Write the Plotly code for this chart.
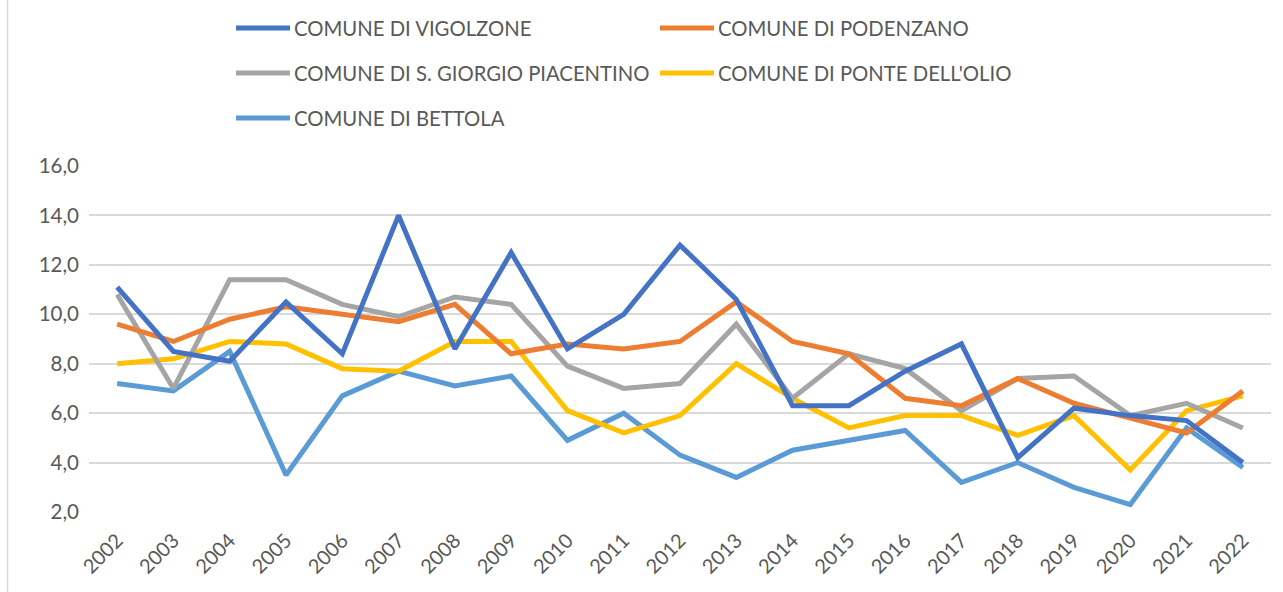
import plotly.graph_objects as go

years = list(range(2002, 2023))

vigolzone = [11.1, 8.5, 8.1, 10.5, 8.4, 14.0, 8.6, 12.5, 8.6, 10.0, 12.8,
             10.6, 6.3, 6.3, 7.7, 8.8, 4.2, 6.2, 5.9, 5.7, 4.0]
podenzano = [9.6, 8.9, 9.8, 10.3, 10.0, 9.7, 10.4, 8.4, 8.8, 8.6, 8.9,
             10.5, 8.9, 8.4, 6.6, 6.3, 7.4, 6.4, 5.8, 5.2, 6.9]
s_giorgio = [10.8, 7.0, 11.4, 11.4, 10.4, 9.9, 10.7, 10.4, 7.9, 7.0, 7.2,
             9.6, 6.6, 8.4, 7.8, 6.1, 7.4, 7.5, 5.9, 6.4, 5.4]
ponte_olio = [8.0, 8.2, 8.9, 8.8, 7.8, 7.7, 8.9, 8.9, 6.1, 5.2, 5.9,
              8.0, 6.6, 5.4, 5.9, 5.9, 5.1, 5.9, 3.7, 6.1, 6.7]
bettola = [7.2, 6.9, 8.5, 3.5, 6.7, 7.7, 7.1, 7.5, 4.9, 6.0, 4.3,
           3.4, 4.5, 4.9, 5.3, 3.2, 4.0, 3.0, 2.3, 5.4, 3.8]

series_names = ["COMUNE DI VIGOLZONE", "COMUNE DI PODENZANO",
                "COMUNE DI S. GIORGIO PIACENTINO", "COMUNE DI PONTE DELL'OLIO",
                "COMUNE DI BETTOLA"]
series_values = [vigolzone, podenzano, s_giorgio, ponte_olio, bettola]
colors = ["#4472C4", "#ED7D31", "#A5A5A5", "#FFC000", "#5B9BD5"]

y_ticks = [2, 4, 6, 8, 10, 12, 14, 16]

W, H = 1283, 592
ML, MR, MT, MB = 89, 12, 166, 80
PW, PH = W - ML - MR, H - MT - MB
FONT = "Lato"
TEXT_COLOR = "#595959"


def px_x(x):
    return (x - ML) / PW


def px_y(y):
    return (H - MB - y) / PH


fig = go.Figure()
# draw order: last series on the bottom, first on top
for name, vals, col in reversed(list(zip(series_names, series_values, colors))):
    fig.add_trace(go.Scatter(
        x=years, y=vals, name=name, mode="lines",
        line=dict(color=col, width=5, shape="linear"),
        showlegend=False,
    ))

# legend, drawn in pixel positions in two columns
legend_pos = [(236, 28), (660, 28), (236, 73), (660, 73), (236, 118)]
shapes = []
annotations = []
for (lx, ly), name, col in zip(legend_pos, series_names, colors):
    shapes.append(dict(
        type="line", xref="paper", yref="paper",
        x0=px_x(lx), x1=px_x(lx + 54), y0=px_y(ly), y1=px_y(ly),
        line=dict(color=col, width=5), layer="above",
    ))
    annotations.append(dict(
        text=name, xref="paper", yref="paper",
        x=px_x(lx + 56), y=px_y(ly),
        xanchor="left", yanchor="middle", showarrow=False,
        font=dict(family=FONT, size=20.3, color=TEXT_COLOR),
    ))

# chart-area border on the left
shapes.append(dict(
    type="line", xref="paper", yref="paper",
    x0=px_x(7.5), x1=px_x(7.5), y0=px_y(H), y1=px_y(0),
    line=dict(color="#D9D9D9", width=1.5),
))

fig.update_layout(
    width=W, height=H,
    margin=dict(l=ML, r=MR, t=MT, b=MB),
    paper_bgcolor="white", plot_bgcolor="white",
    separators=", ",
    font=dict(family=FONT, size=20, color=TEXT_COLOR),
    shapes=shapes, annotations=annotations,
)
fig.update_xaxes(
    range=[2001.5, 2022.5], tickmode="array", tickvals=years,
    ticktext=[str(y) for y in years], tickangle=-45,
    showgrid=False, zeroline=False, showline=False, ticks="",
    ticklabelstandoff=12,
    tickfont=dict(family=FONT, size=20, color=TEXT_COLOR),
)
fig.update_yaxes(
    range=[2, 16], tickmode="array", tickvals=y_ticks, tickformat=".1f",
    showgrid=True, gridcolor="#D9D9D9", gridwidth=1.5,
    zeroline=False, showline=False, ticks="", ticklabelstandoff=9,
    tickfont=dict(family=FONT, size=20.5, color=TEXT_COLOR),
)

fig.write_html("out.html")
